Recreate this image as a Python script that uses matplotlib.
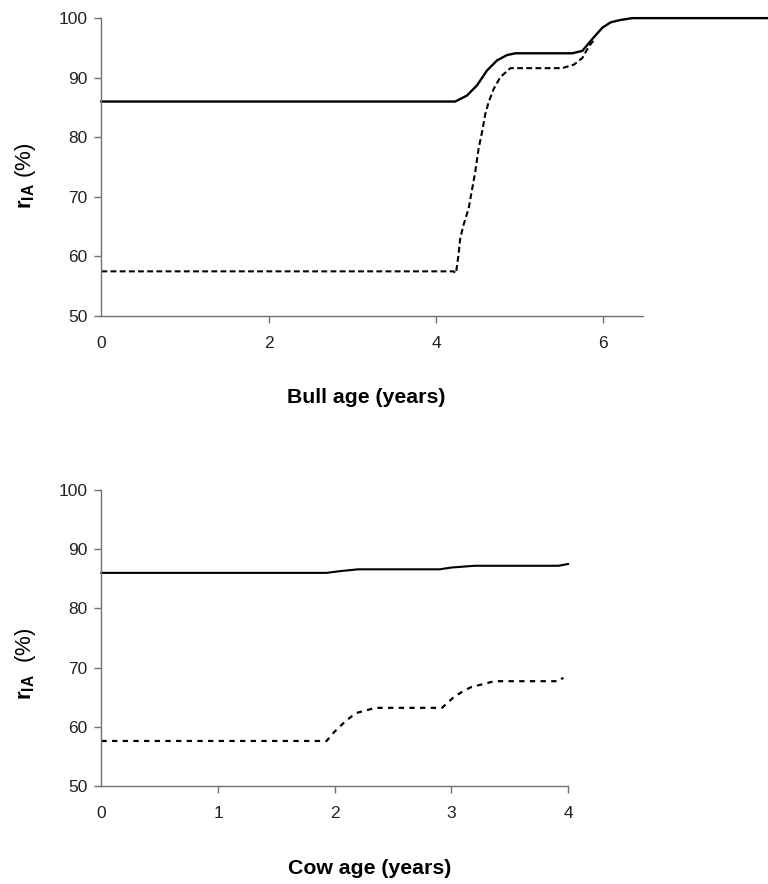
import matplotlib
matplotlib.use("Agg")
import matplotlib.pyplot as plt

# top panel: bull age
bull_age_solid = [0, 4.23, 4.37, 4.49, 4.61, 4.73, 4.85, 4.95, 5.63, 5.75, 5.87, 5.99, 6.09, 6.21, 6.35, 8.0]
bull_solid = [86.0, 86.0, 87.0, 88.7, 91.2, 92.9, 93.8, 94.1, 94.1, 94.5, 96.5, 98.4, 99.3, 99.7, 100.0, 100.0]
bull_age_dash = [0, 4.21, 4.24, 4.27, 4.29, 4.33, 4.39, 4.43, 4.47, 4.51, 4.55, 4.59, 4.63, 4.69, 4.77,
                 4.89, 5.51, 5.65, 5.75, 5.83, 5.90]
bull_dash = [57.5, 57.5, 57.2, 60.3, 63.0, 65.3, 68.0, 71.1, 74.2, 78.1, 80.8, 83.9, 85.9, 88.1, 90.1,
             91.6, 91.6, 92.2, 93.3, 95.3, 96.5]

# bottom panel: cow age
cow_age_solid = [0, 1.93, 2.05, 2.2, 2.9, 3.0, 3.2, 3.92, 4.0]
cow_solid = [86.0, 86.0, 86.3, 86.6, 86.6, 86.9, 87.2, 87.2, 87.5]
cow_age_dash = [0, 1.93, 2.0, 2.09, 2.18, 2.35, 2.92, 3.02, 3.1, 3.17, 3.37, 3.92, 3.96]
cow_dash = [57.6, 57.6, 59.2, 60.9, 62.3, 63.2, 63.2, 65.0, 66.0, 66.7, 67.7, 67.7, 68.3]

y_ticks = [50, 60, 70, 80, 90, 100]

plt.rcParams['mathtext.fontset'] = 'custom'
plt.rcParams['mathtext.rm'] = 'Liberation Sans:bold'
plt.rcParams['mathtext.it'] = 'Liberation Sans:bold'
plt.rcParams['mathtext.bf'] = 'Liberation Sans:bold'
plt.rcParams['font.family'] = ['Liberation Sans', 'DejaVu Sans']

spine_col = '#707070'

fig = plt.figure(figsize=(7.68, 8.84), dpi=100)
ax1 = fig.add_axes([0.132, 0.6425, 0.868, 0.337])
ax2 = fig.add_axes([0.132, 0.1109, 0.6076, 0.3348])


def style_axes(ax):
    for s in ['top', 'right']:
        ax.spines[s].set_visible(False)
    for s in ['left', 'bottom']:
        ax.spines[s].set_color(spine_col)
        ax.spines[s].set_linewidth(1.0)
    ax.tick_params(direction='out', length=5, width=1.0, color=spine_col,
                   labelsize=12.5, labelcolor='#222222')
    ax.tick_params(axis='x', pad=9.5)
    ax.tick_params(axis='y', pad=5)
    ax.set_ylim(50, 100)
    ax.set_yticks(y_ticks)
    ax.xaxis.get_major_ticks()[0].tick1line.set_visible(False)


# top
ax1.plot(bull_age_solid, bull_solid, color='black', lw=1.7, clip_on=False)
ax1.plot(bull_age_dash, bull_dash, color='black', lw=1.5, ls=(0, (2.8, 1.6)), clip_on=False)
ax1.set_xlim(0, 7.97)
ax1.set_xticks([0, 2, 4, 6])
style_axes(ax1)
ax1.spines['bottom'].set_bounds(0, 6.47)
ax1.set_xlabel('Bull age (years)', fontsize=15.3, fontweight='bold', va='center')
ax1.xaxis.set_label_coords((366 - 101.5) / (0.868 * 768), -0.275)
ax1.set_ylabel(r'$\mathrm{r}_{\mathrm{IA}}$ (%)', fontsize=16, va='center')
ax1.yaxis.set_label_coords((26 - 101.5) / (0.868 * 768), 0.47)

# bottom
ax2.plot(cow_age_solid, cow_solid, color='black', lw=1.5, clip_on=False)
ax2.plot(cow_age_dash, cow_dash, color='black', lw=1.6, ls=(0, (2.4, 2.4)), clip_on=False)
ax2.set_xlim(0, 4)
ax2.set_xticks([0, 1, 2, 3, 4])
style_axes(ax2)
ax2.set_xlabel('Cow age (years)', fontsize=15.3, fontweight='bold', va='center')
ax2.xaxis.set_label_coords((370 - 101.5) / (0.6076 * 768), -0.28)
ax2.set_ylabel(r'$\mathrm{r}_{\mathrm{IA}}$  (%)', fontsize=16, va='center')
ax2.yaxis.set_label_coords((26 - 101.5) / (0.6076 * 768), 0.412)

fig.savefig('out.png', dpi=100)
